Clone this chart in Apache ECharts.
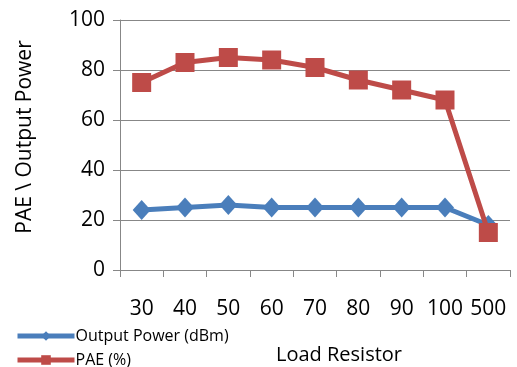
<!DOCTYPE html>
<html>
<head>
<meta charset="utf-8">
<script src="https://cdn.jsdelivr.net/npm/echarts@6/dist/echarts.min.js"></script>
<style>
  html, body { margin: 0; padding: 0; background: #fff; }
  #chart { width: 517px; height: 367px; }
</style>
</head>
<body>
<div id="chart"></div>
<script>
const loadResistors = ['30', '40', '50', '60', '70', '80', '90', '100', '500']
const outputPower = [24, 25, 26, 25, 25, 25, 25, 25, 18]
const pae = [75, 83, 85, 84, 81, 76, 72, 68, 15]

const font = '"Open Sans", sans-serif'
const gridColor = '#878787'

// one legend per series so they stack like the original
const legendItem = (name, top) => ({
  left: 15,
  top: top,
  padding: 0,
  itemWidth: 57,
  itemHeight: 12,
  lineStyle: { width: 5 },
  textStyle: { fontFamily: font, fontSize: 16, color: '#000', padding: [0, 0, 0, -4] },
  data: [name]
})

const chart = echarts.init(document.getElementById('chart'))

chart.setOption({
  animation: false,
  color: ['#4a7ebb', '#be4b48'],
  textStyle: { fontFamily: font, color: '#000' },
  title: {
    text: 'Load Resistor',
    left: 271,
    top: 340,
    textStyle: { fontFamily: font, fontSize: 20, fontWeight: 'normal', color: '#000' }
  },
  legend: [
    legendItem('Output Power (dBm)', 328),
    legendItem('PAE (%)', 352)
  ],
  grid: {
    left: 120,
    top: 20,
    right: 7,
    bottom: 97
  },
  xAxis: {
    type: 'category',
    data: loadResistors,
    boundaryGap: true,
    axisLine: { lineStyle: { color: gridColor, width: 1 } },
    axisTick: { show: true, length: 7, lineStyle: { color: gridColor } },
    axisLabel: { fontFamily: font, fontSize: 21, color: '#000', margin: 29, interval: 0 }
  },
  yAxis: {
    type: 'value',
    min: 0,
    max: 100,
    interval: 20,
    name: 'PAE \\ Output Power',
    nameLocation: 'middle',
    nameGap: 84,
    nameTextStyle: { fontFamily: font, fontSize: 21, color: '#000', padding: [0, 0, 0, 16] },
    axisLine: { show: true, lineStyle: { color: gridColor, width: 1 } },
    axisTick: { show: true, length: 7, lineStyle: { color: gridColor } },
    axisLabel: { fontFamily: font, fontSize: 21, color: '#000', margin: 15 },
    splitLine: { lineStyle: { color: gridColor, width: 1 } }
  },
  series: [
    {
      name: 'Output Power (dBm)',
      type: 'line',
      data: outputPower,
      symbol: 'diamond',
      symbolSize: [18, 20],
      lineStyle: { width: 5 },
      z: 2
    },
    {
      name: 'PAE (%)',
      type: 'line',
      data: pae,
      symbol: 'rect',
      symbolSize: 19,
      lineStyle: { width: 5 },
      z: 3
    }
  ]
})
</script>
</body>
</html>
